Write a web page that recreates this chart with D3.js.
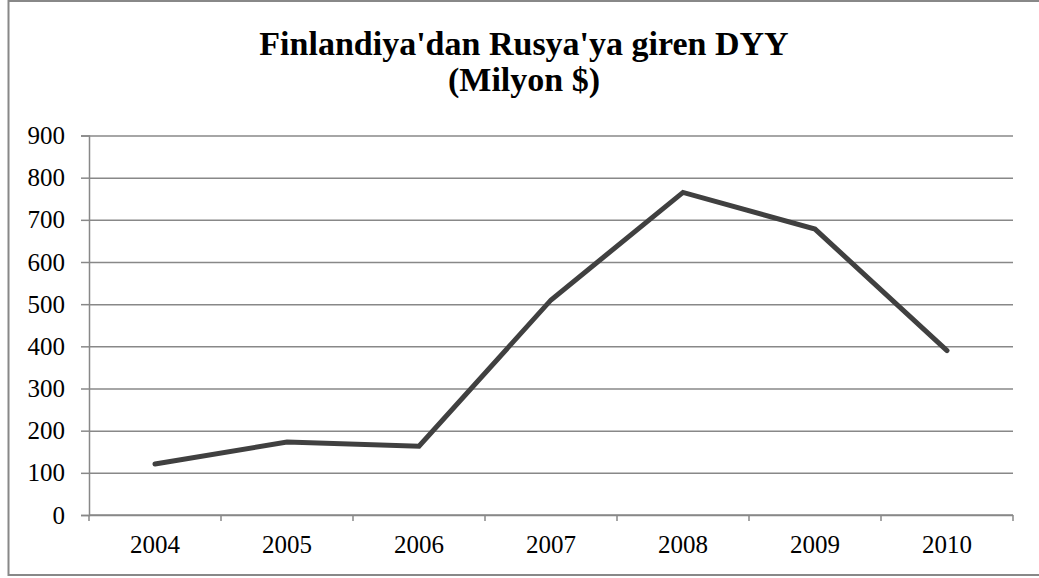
<!DOCTYPE html>
<html>
<head>
<meta charset="utf-8">
<script src="https://cdn.jsdelivr.net/npm/d3@7"></script>
<style>
  body { margin: 0; background: #fff; }
  svg { display: block; font-family: "Liberation Serif", "Times New Roman", serif; }
</style>
</head>
<body>
<svg id="chart"></svg>
<script>
// data
const years = ["2004", "2005", "2006", "2007", "2008", "2009", "2010"];
const fdi = [121, 173, 163, 510, 765, 678, 390];
const yTicks = [0, 100, 200, 300, 400, 500, 600, 700, 800, 900];
const titleLines = ["Finlandiya'dan Rusya'ya giren DYY", "(Milyon $)"];

const width = 1039;
const height = 578;
const marginTop = 135.5;
const marginRight = 26;
const marginBottom = 63;
const marginLeft = 89;

const data = years.map((y, i) => ({year: y, value: fdi[i]}));

const svg = d3.select("#chart")
    .attr("width", width)
    .attr("height", height)
    .attr("viewBox", [0, 0, width, height]);

// outer frame (right edge runs off the canvas)
svg.append("rect")
    .attr("x", 8.5)
    .attr("y", 1)
    .attr("width", 1040)
    .attr("height", 574)
    .attr("fill", "none")
    .attr("stroke", "#888")
    .attr("stroke-width", 2);

const x = d3.scaleBand()
    .domain(years)
    .range([marginLeft, width - marginRight])
    .padding(0);

const y = d3.scaleLinear()
    .domain([0, 900])
    .range([height - marginBottom, marginTop]);

// y axis with gridlines
svg.append("g")
    .attr("transform", `translate(${marginLeft},0)`)
    .call(d3.axisLeft(y).tickValues(yTicks).tickSize(8).tickPadding(16))
    .attr("font-family", null)
    .attr("font-size", 25)
    .call(g => g.select(".domain").attr("stroke", "#888").attr("stroke-width", 1.5))
    .call(g => g.selectAll(".tick line").attr("stroke", "#888").attr("stroke-width", 1.5))
    .call(g => g.selectAll(".tick line").clone()
        .attr("x1", 0)
        .attr("x2", width - marginLeft - marginRight))
    .call(g => g.selectAll(".tick text").attr("fill", "#000"));

// x axis, ticks between categories
const xAxis = svg.append("g")
    .attr("transform", `translate(0,${height - marginBottom})`);

xAxis.append("line")
    .attr("x1", marginLeft)
    .attr("x2", width - marginRight)
    .attr("stroke", "#888")
    .attr("stroke-width", 1.5);

const bounds = years.map(d => x(d)).concat([width - marginRight]);
xAxis.selectAll(".sep")
    .data(bounds)
    .join("line")
    .attr("x1", d => d)
    .attr("x2", d => d)
    .attr("y1", 0)
    .attr("y2", 6)
    .attr("stroke", "#888")
    .attr("stroke-width", 1.5);

xAxis.selectAll(".lbl")
    .data(years)
    .join("text")
    .attr("x", d => x(d) + x.bandwidth() / 2)
    .attr("y", 38)
    .attr("text-anchor", "middle")
    .attr("font-size", 25)
    .attr("fill", "#000")
    .text(d => d);

const line = d3.line()
    .x(d => x(d.year) + x.bandwidth() / 2)
    .y(d => y(d.value));

svg.append("path")
    .attr("fill", "none")
    .attr("stroke", "#404040")
    .attr("stroke-width", 5)
    .attr("stroke-linejoin", "miter")
    .attr("stroke-linecap", "round")
    .attr("d", line(data));

// title
svg.append("text")
    .attr("x", 524)
    .attr("y", 55)
    .attr("text-anchor", "middle")
    .attr("font-size", 34)
    .attr("font-weight", "bold")
    .selectAll("tspan")
    .data(titleLines)
    .join("tspan")
    .attr("x", 524)
    .attr("dy", (d, i) => i === 0 ? 0 : 36)
    .text(d => d);
</script>
</body>
</html>
